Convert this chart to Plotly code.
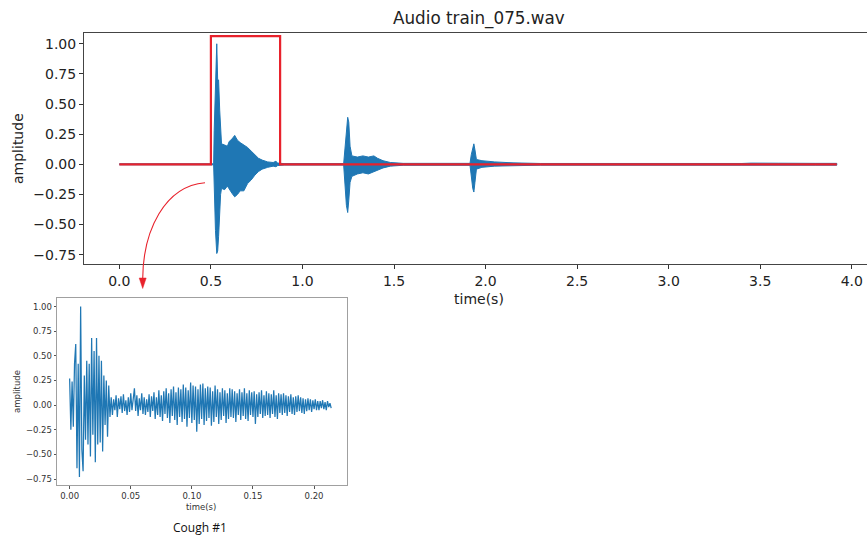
import plotly.graph_objects as go

W, H = 867, 535

# ---------------- data ----------------
# main waveform envelope: time (s), upper and lower amplitude
env_t = [0.000, 0.515, 0.518, 0.525, 0.532, 0.537, 0.542, 0.548, 0.553, 0.558,
         0.575, 0.590, 0.600, 0.615, 0.630, 0.645, 0.660, 0.680, 0.700, 0.720,
         0.740, 0.760, 0.780, 0.810, 0.840, 0.855, 0.865, 0.900, 1.225, 1.232,
         1.240, 1.247, 1.253, 1.260, 1.270, 1.300, 1.330, 1.360, 1.390, 1.410,
         1.440, 1.480, 1.550, 1.915, 1.922, 1.930, 1.936, 1.942, 1.950, 1.980,
         2.050, 2.150, 2.300, 3.400, 3.450, 3.600, 3.700, 3.800, 3.918]
env_hi = [0.004, 0.004, 0.28, 0.62, 1.00, 0.70, 0.70, 0.45, 0.30, 0.17,
          0.16, 0.15, 0.19, 0.21, 0.24, 0.20, 0.18, 0.16, 0.14, 0.11,
          0.08, 0.05, 0.035, 0.02, 0.015, 0.025, 0.01, 0.006, 0.006, 0.15,
          0.32, 0.39, 0.35, 0.15, 0.07, 0.06, 0.07, 0.06, 0.07, 0.05,
          0.03, 0.015, 0.008, 0.008, 0.08, 0.15, 0.17, 0.12, 0.04, 0.03,
          0.02, 0.012, 0.007, 0.007, 0.010, 0.009, 0.011, 0.008, 0.008]
env_lo = [-0.004, -0.004, -0.25, -0.55, -0.74, -0.72, -0.60, -0.48, -0.25, -0.20,
          -0.21, -0.18, -0.20, -0.24, -0.27, -0.25, -0.22, -0.22, -0.16, -0.13,
          -0.09, -0.06, -0.04, -0.025, -0.015, -0.02, -0.01, -0.006, -0.006, -0.20,
          -0.34, -0.40, -0.30, -0.15, -0.10, -0.08, -0.07, -0.08, -0.06, -0.05,
          -0.03, -0.015, -0.008, -0.008, -0.10, -0.20, -0.23, -0.15, -0.04, -0.025,
          -0.015, -0.01, -0.007, -0.007, -0.008, -0.008, -0.008, -0.007, -0.007]

# red selection outline (step line drawn as data)
sel_t = [0.0, 0.5, 0.5, 0.878, 0.878, 3.918]
sel_amp = [0.0, 0.0, 1.063, 1.063, 0.0, 0.0]

# cough #1 samples, one every cough_dt seconds
cough_dt = 0.001
cough_amp = [
    0.27, -0.25, 0.24, -0.22, 0.42, 0.62, -0.64, 0.42, -0.73, 1.00,
    -0.45, -0.67, 0.30, -0.35, 0.45, -0.40, 0.42, -0.52, 0.68, -0.30,
    0.55, -0.58, 0.68, -0.40, 0.50, -0.38, 0.45, -0.47, 0.30, -0.20,
    0.25, -0.32, 0.20, -0.12,
    0.08, -0.10, 0.06, -0.05, 0.10, -0.12, 0.07, -0.04, 0.09, -0.08,
    0.11, -0.06, 0.05, -0.10, 0.08, -0.07, 0.12, -0.05, 0.06, 0.17,
    -0.06, 0.10, -0.11, 0.07, -0.05, 0.12, -0.09, 0.08, -0.10, 0.06,
    -0.07, 0.11, -0.12, 0.09, -0.06, 0.13, -0.14, 0.08, -0.10, 0.15,
    -0.12, 0.10, -0.16, 0.14, -0.09, 0.17, -0.13, 0.12, -0.18, 0.16,
    -0.11, 0.19, -0.15, 0.13, -0.20, 0.18, -0.12, 0.16, -0.17, 0.21,
    -0.14, 0.18, -0.22, 0.15, -0.13, 0.23, -0.18, 0.20, -0.15, 0.19,
    -0.27, 0.16, -0.19, 0.21, -0.14, 0.22, -0.20, 0.17, -0.16, 0.19,
    -0.13, 0.18, -0.21, 0.14, -0.17, 0.20, -0.12, 0.16, -0.19, 0.13,
    -0.15, 0.17, -0.11, 0.15, -0.18, 0.12, -0.14, 0.17, -0.12, 0.16,
    -0.13, 0.14, -0.17, 0.12, -0.10, 0.16, -0.15, 0.13, -0.11, 0.17,
    -0.14, 0.12, -0.16, 0.15, -0.10, 0.13, -0.12, 0.14, -0.19, 0.11,
    -0.12, 0.13, -0.09, 0.15, -0.13, 0.10, -0.11, 0.14, -0.10, 0.12,
    -0.13, 0.11, -0.09, 0.15, -0.12, 0.10, -0.14, 0.12, -0.08, 0.11,
    -0.10, 0.12, -0.08, 0.10, -0.11, 0.09, -0.07, 0.11, -0.09, 0.08,
    -0.10, 0.09, -0.07, 0.10, -0.06, 0.08, -0.08, 0.07, -0.09, 0.06,
    -0.06, 0.07, -0.05, 0.06, -0.07, 0.05, -0.04, 0.06, -0.05, 0.04,
    -0.05, 0.04, -0.03, 0.05, -0.04, 0.03, -0.05, 0.04, -0.02, 0.02,
    -0.03]

main_xticks = [0.0, 0.5, 1.0, 1.5, 2.0, 2.5, 3.0, 3.5, 4.0]
main_xlabels = ["0.0", "0.5", "1.0", "1.5", "2.0", "2.5", "3.0", "3.5", "4.0"]
amp_ticks = [-0.75, -0.5, -0.25, 0.0, 0.25, 0.5, 0.75, 1.0]
amp_labels = ["\u22120.75", "\u22120.50", "\u22120.25", "0.00", "0.25", "0.50", "0.75", "1.00"]
inset_xticks = [0.0, 0.05, 0.10, 0.15, 0.20]
inset_xlabels = ["0.00", "0.05", "0.10", "0.15", "0.20"]

title_text = "Audio train_075.wav"
caption_text = "Cough #1"

# ---------------- styles ----------------
BLUE = "#1f77b4"
RED = "#e8222c"
FONT = "DejaVu Sans"
TXT = "#222222"


def px(x, y):
    return f"{x / W:.5f},{1 - y / H:.5f}"


fig = go.Figure()

fig.add_trace(go.Scatter(
    x=env_t + env_t[::-1], y=env_hi + env_lo[::-1],
    mode="lines", fill="toself", fillcolor=BLUE,
    line=dict(color=BLUE, width=1), hoverinfo="skip",
    xaxis="x", yaxis="y", showlegend=False))

fig.add_trace(go.Scatter(
    x=sel_t, y=sel_amp, mode="lines",
    line=dict(color=RED, width=2.2), hoverinfo="skip",
    xaxis="x", yaxis="y", showlegend=False))

cough_t = [i * cough_dt for i in range(len(cough_amp))]
fig.add_trace(go.Scatter(
    x=cough_t, y=cough_amp, mode="lines",
    line=dict(color=BLUE, width=1.25), hoverinfo="skip",
    xaxis="x2", yaxis="y2", showlegend=False))

main_ax = dict(showgrid=False, zeroline=False, ticks="outside", ticklen=4,
               tickwidth=1, tickcolor="#333", showline=True, linecolor="#444",
               linewidth=1, automargin=False,
               tickfont=dict(family=FONT, size=14, color=TXT))
inset_ax = dict(showgrid=False, zeroline=False, ticks="outside", ticklen=2.5,
                tickwidth=0.8, tickcolor="#555", showline=True, linecolor="#a0a0a0",
                linewidth=1.3, mirror=True, automargin=False,
                tickfont=dict(family=FONT, size=8.5, color="#333"))

fig.update_layout(
    width=W, height=H, margin=dict(l=0, r=0, t=0, b=0, autoexpand=False),
    paper_bgcolor="white", plot_bgcolor="white", showlegend=False,
    xaxis=dict(domain=[84 / W, 1.0], range=[-0.193, 4.083], anchor="y",
               tickvals=main_xticks, ticktext=main_xlabels, mirror=True, **main_ax),
    yaxis=dict(domain=[1 - 264 / H, 1 - 33.3 / H], range=[-0.827, 1.087], anchor="x",
               tickvals=amp_ticks, ticktext=amp_labels, **main_ax),
    xaxis2=dict(domain=[57.3 / W, 346.7 / W], range=[-0.0101, 0.2267], anchor="y2",
                tickvals=inset_xticks, ticktext=inset_xlabels, **inset_ax),
    yaxis2=dict(domain=[1 - 485 / H, 1 - 297.7 / H], range=[-0.81, 1.09], anchor="x2",
                tickvals=amp_ticks, ticktext=amp_labels, **inset_ax),
)

ann = [
    dict(text=title_text, x=478.5 / W, y=1 - 19 / H, font=dict(family=FONT, size=16.8, color=TXT)),
    dict(text="amplitude", x=18 / W, y=1 - 149 / H, textangle=-90, font=dict(family=FONT, size=14, color=TXT)),
    dict(text="time(s)", x=478.5 / W, y=1 - 299 / H, font=dict(family=FONT, size=14, color=TXT)),
    dict(text="amplitude", x=17 / W, y=1 - 392 / H, textangle=-90, font=dict(family=FONT, size=8.5, color="#333")),
    dict(text="time(s)", x=201 / W, y=1 - 507 / H, font=dict(family=FONT, size=8.5, color="#333")),
    dict(text=caption_text, x=199.5 / W, y=1 - 527 / H, font=dict(family="Open Sans", size=12, color="#111")),
]
for a in ann:
    fig.add_annotation(xref="paper", yref="paper", showarrow=False,
                       xanchor="center", yanchor="middle", **a)

fig.add_shape(type="path", xref="paper", yref="paper",
              path=f"M {px(205, 182.7)} C {px(165, 186)} {px(143, 230)} {px(142.7, 279)}",
              line=dict(color=RED, width=1.1))
fig.add_shape(type="path", xref="paper", yref="paper",
              path=f"M {px(139.2, 278)} L {px(146.2, 278)} L {px(142.7, 288.5)} Z",
              fillcolor=RED, line=dict(color=RED, width=0.5))

fig.write_html("out.html", config={"displayModeBar": False},
               post_script="document.body.style.margin='0';document.body.style.overflow='hidden';")
